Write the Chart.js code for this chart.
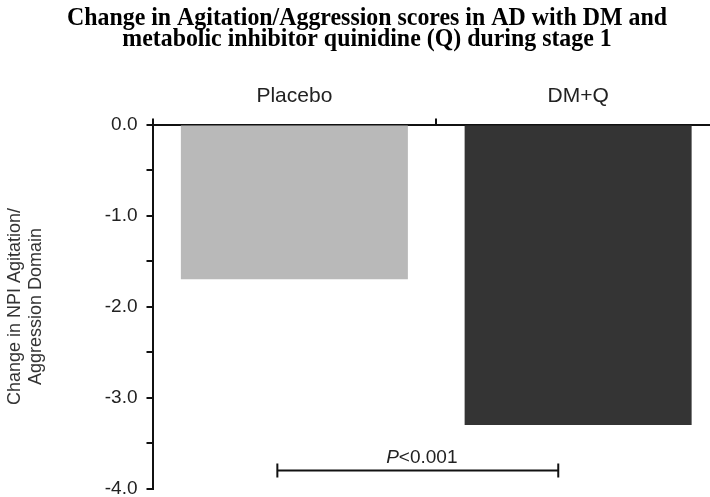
<!DOCTYPE html>
<html>
<head>
<meta charset="utf-8">
<script src="https://cdn.jsdelivr.net/npm/chart.js@4"></script>
<style>
  html, body { margin: 0; padding: 0; background: #fff; overflow: hidden; }
  #wrap { width: 720px; height: 509px; }
</style>
</head>
<body>
<div id="wrap"><canvas id="chart"></canvas></div>
<script>
// ── datos ──
const categories = ['Placebo', 'DM+Q'];
const changeValues = [-1.7, -3.3];
const barColors = ['#b9b9b9', '#343434'];
const yTicks = [0, -1, -2, -3, -4];
const titleLines = ['Change in Agitation/Aggression scores in AD with DM and',
                    'metabolic inhibitor quinidine (Q) during stage 1'];

// barra de significancia (unidades de categoría / eje y)
const bracketFrom = -0.06;
const bracketTo = 0.93;
const bracketY = -3.8;
const bracketLabel = '<0.001';

Chart.defaults.font.family = "'Liberation Sans', Arial, sans-serif";
Chart.defaults.color = '#222';

// ── plugin: título en serif condensado ──
const serifTitle = {
    id: 'serifTitle',
    afterDraw(chart) {
        const { ctx } = chart;
        ctx.save();
        ctx.fillStyle = '#000';
        ctx.font = "bold 25px 'Liberation Serif', 'Times New Roman', serif";
        ctx.textAlign = 'center';
        ctx.textBaseline = 'alphabetic';
        ctx.translate(chart.width / 2 + 7, 0);
        ctx.scale(0.955, 1);
        titleLines.forEach((t, i) => ctx.fillText(t, 0, 25 + i * 21));
        ctx.restore();
    }
};

// ── plugin: barra P<0.001 ──
const pBracket = {
    id: 'pBracket',
    afterDatasetsDraw(chart) {
        const { ctx, scales: { x, y } } = chart;
        const x1 = x.getPixelForValue(bracketFrom);
        const x2 = x.getPixelForValue(bracketTo);
        const yy = y.getPixelForValue(bracketY);
        ctx.save();
        ctx.strokeStyle = '#111';
        ctx.lineWidth = 2;
        ctx.beginPath();
        ctx.moveTo(x1, yy); ctx.lineTo(x2, yy);
        ctx.moveTo(x1, yy - 7); ctx.lineTo(x1, yy + 7);
        ctx.moveTo(x2, yy - 7); ctx.lineTo(x2, yy + 7);
        ctx.stroke();

        ctx.fillStyle = '#222';
        ctx.textBaseline = 'alphabetic';
        const italic = "italic 19px 'Liberation Sans', Arial, sans-serif";
        const normal = "19px 'Liberation Sans', Arial, sans-serif";
        ctx.font = italic;
        const wP = ctx.measureText('P').width;
        ctx.font = normal;
        const wR = ctx.measureText(bracketLabel).width;
        const cx = (x1 + x2) / 2 + 4;
        const sx = cx - (wP + wR) / 2;
        ctx.font = italic;
        ctx.fillText('P', sx, yy - 7);
        ctx.font = normal;
        ctx.fillText(bracketLabel, sx + wP, yy - 7);
        ctx.restore();
    }
};

new Chart(document.getElementById('chart'), {
    type: 'bar',
    data: {
        labels: categories,
        datasets: [{
            data: changeValues,
            backgroundColor: barColors,
            borderWidth: 0,
            categoryPercentage: 1,
            barPercentage: 0.8
        }]
    },
    options: {
        responsive: true, maintainAspectRatio: false,
        animation: false,
        layout: { padding: { left: 0, right: 0, top: 50, bottom: 0 } },
        plugins: {
            legend: { display: false },
            tooltip: { enabled: false },
            title: { display: false }
        },
        scales: {
            x: {
                position: 'top',
                border: { display: true, color: '#111', width: 2 },
                grid: { display: true, drawOnChartArea: false, drawTicks: true, tickLength: 6, color: '#111', lineWidth: 2 },
                ticks: { font: { size: 21 }, color: '#222', padding: 10 },
                afterFit: s => { s.height = 74.5; }
            },
            y: {
                min: -4, max: 0,
                border: { display: true, color: '#111', width: 2 },
                grid: { display: true, drawOnChartArea: false, drawTicks: true, tickLength: 6, color: '#111', lineWidth: 2 },
                ticks: {
                    stepSize: 0.5,
                    font: { size: 19 },
                    color: '#222',
                    padding: 9,
                    callback: v => yTicks.includes(v) ? v.toFixed(1) : ''
                },
                title: {
                    display: true,
                    text: ['Change in NPI Agitation/', 'Aggression Domain'],
                    font: { size: 18, lineHeight: 1.2 },
                    color: '#333',
                    padding: { top: 4, bottom: 0 }
                },
                afterFit: s => { s.width = 152.5; }
            }
        }
    },
    plugins: [pBracket, serifTitle]
});
</script>
</body>
</html>
